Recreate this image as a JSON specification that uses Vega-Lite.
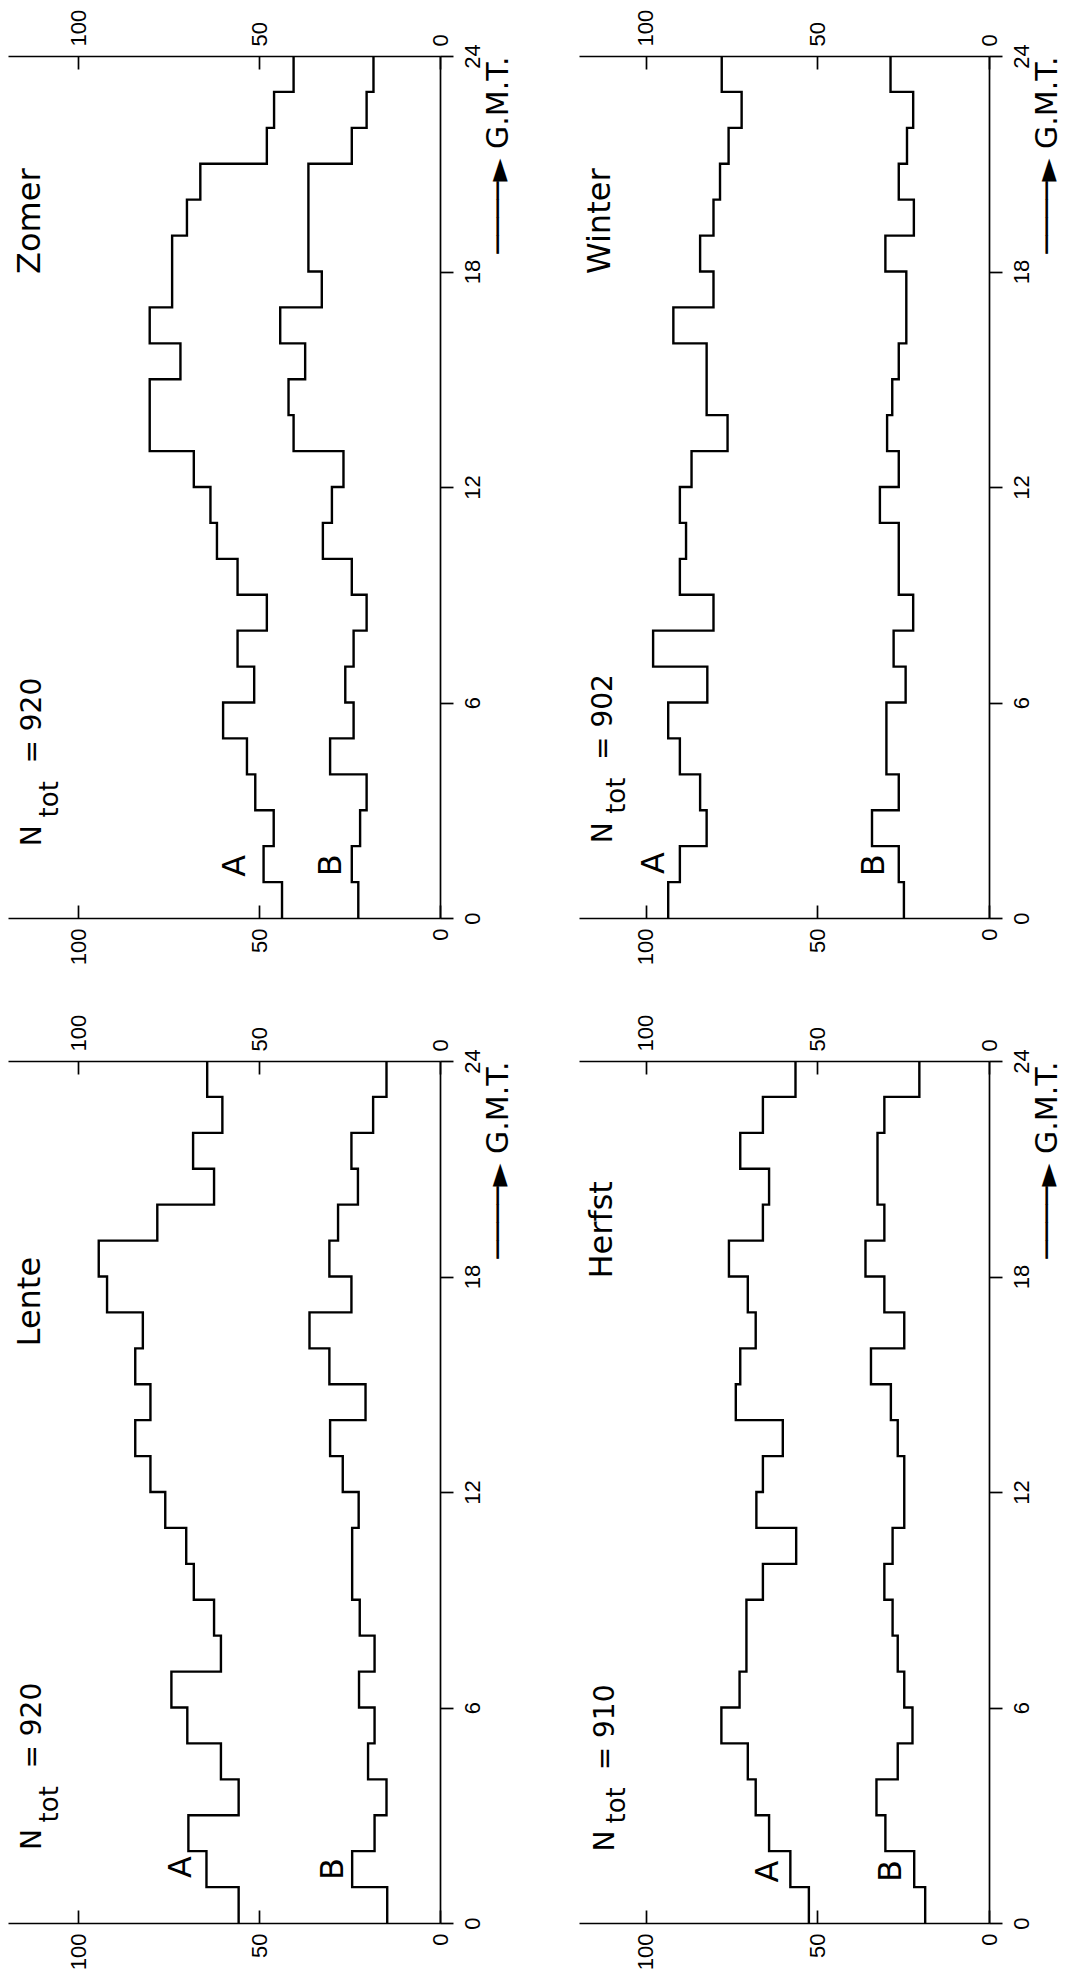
{
  "$schema": "https://vega.github.io/schema/vega-lite/v6.json",
  "padding": {"left": 8, "top": 9, "right": 0, "bottom": 0},
  "background": "white",
  "datasets": {
    "steps": [
      {"season":"Zomer","series":"A","hour":0,"value":43.7},{"season":"Zomer","series":"A","hour":1,"value":48.8},{"season":"Zomer","series":"A","hour":2,"value":46.0},{"season":"Zomer","series":"A","hour":3,"value":51.1},{"season":"Zomer","series":"A","hour":4,"value":53.4},{"season":"Zomer","series":"A","hour":5,"value":60.0},{"season":"Zomer","series":"A","hour":6,"value":51.4},{"season":"Zomer","series":"A","hour":7,"value":56.0},{"season":"Zomer","series":"A","hour":8,"value":47.9},{"season":"Zomer","series":"A","hour":9,"value":56.0},{"season":"Zomer","series":"A","hour":10,"value":61.7},{"season":"Zomer","series":"A","hour":11,"value":63.5},{"season":"Zomer","series":"A","hour":12,"value":68.1},{"season":"Zomer","series":"A","hour":13,"value":80.3},{"season":"Zomer","series":"A","hour":14,"value":80.3},{"season":"Zomer","series":"A","hour":15,"value":71.8},{"season":"Zomer","series":"A","hour":16,"value":80.3},{"season":"Zomer","series":"A","hour":17,"value":74.1},{"season":"Zomer","series":"A","hour":18,"value":74.1},{"season":"Zomer","series":"A","hour":19,"value":70.0},{"season":"Zomer","series":"A","hour":20,"value":66.3},{"season":"Zomer","series":"A","hour":21,"value":47.9},{"season":"Zomer","series":"A","hour":22,"value":45.9},{"season":"Zomer","series":"A","hour":23,"value":40.5},{"season":"Zomer","series":"A","hour":24,"value":40.5},
      {"season":"Zomer","series":"B","hour":0,"value":22.6},{"season":"Zomer","series":"B","hour":1,"value":24.4},{"season":"Zomer","series":"B","hour":2,"value":22.1},{"season":"Zomer","series":"B","hour":3,"value":20.3},{"season":"Zomer","series":"B","hour":4,"value":30.4},{"season":"Zomer","series":"B","hour":5,"value":23.9},{"season":"Zomer","series":"B","hour":6,"value":26.2},{"season":"Zomer","series":"B","hour":7,"value":23.9},{"season":"Zomer","series":"B","hour":8,"value":20.3},{"season":"Zomer","series":"B","hour":9,"value":24.4},{"season":"Zomer","series":"B","hour":10,"value":32.4},{"season":"Zomer","series":"B","hour":11,"value":29.9},{"season":"Zomer","series":"B","hour":12,"value":26.7},{"season":"Zomer","series":"B","hour":13,"value":40.5},{"season":"Zomer","series":"B","hour":14,"value":41.9},{"season":"Zomer","series":"B","hour":15,"value":37.3},{"season":"Zomer","series":"B","hour":16,"value":44.2},{"season":"Zomer","series":"B","hour":17,"value":32.7},{"season":"Zomer","series":"B","hour":18,"value":36.4},{"season":"Zomer","series":"B","hour":19,"value":36.4},{"season":"Zomer","series":"B","hour":20,"value":36.4},{"season":"Zomer","series":"B","hour":21,"value":24.4},{"season":"Zomer","series":"B","hour":22,"value":20.3},{"season":"Zomer","series":"B","hour":23,"value":18.4},{"season":"Zomer","series":"B","hour":24,"value":18.4},
      {"season":"Lente","series":"A","hour":0,"value":55.7},{"season":"Lente","series":"A","hour":1,"value":64.6},{"season":"Lente","series":"A","hour":2,"value":69.6},{"season":"Lente","series":"A","hour":3,"value":55.7},{"season":"Lente","series":"A","hour":4,"value":60.6},{"season":"Lente","series":"A","hour":5,"value":69.9},{"season":"Lente","series":"A","hour":6,"value":74.3},{"season":"Lente","series":"A","hour":7,"value":60.6},{"season":"Lente","series":"A","hour":8,"value":62.5},{"season":"Lente","series":"A","hour":9,"value":68.1},{"season":"Lente","series":"A","hour":10,"value":70.2},{"season":"Lente","series":"A","hour":11,"value":76.0},{"season":"Lente","series":"A","hour":12,"value":80.1},{"season":"Lente","series":"A","hour":13,"value":84.3},{"season":"Lente","series":"A","hour":14,"value":80.1},{"season":"Lente","series":"A","hour":15,"value":84.3},{"season":"Lente","series":"A","hour":16,"value":82.2},{"season":"Lente","series":"A","hour":17,"value":92.1},{"season":"Lente","series":"A","hour":18,"value":94.4},{"season":"Lente","series":"A","hour":19,"value":78.2},{"season":"Lente","series":"A","hour":20,"value":62.5},{"season":"Lente","series":"A","hour":21,"value":68.3},{"season":"Lente","series":"A","hour":22,"value":60.2},{"season":"Lente","series":"A","hour":23,"value":64.4},{"season":"Lente","series":"A","hour":24,"value":64.4},
      {"season":"Lente","series":"B","hour":0,"value":14.6},{"season":"Lente","series":"B","hour":1,"value":24.3},{"season":"Lente","series":"B","hour":2,"value":18.1},{"season":"Lente","series":"B","hour":3,"value":14.8},{"season":"Lente","series":"B","hour":4,"value":19.9},{"season":"Lente","series":"B","hour":5,"value":18.1},{"season":"Lente","series":"B","hour":6,"value":22.4},{"season":"Lente","series":"B","hour":7,"value":18.1},{"season":"Lente","series":"B","hour":8,"value":22.2},{"season":"Lente","series":"B","hour":9,"value":24.3},{"season":"Lente","series":"B","hour":10,"value":24.3},{"season":"Lente","series":"B","hour":11,"value":22.5},{"season":"Lente","series":"B","hour":12,"value":26.9},{"season":"Lente","series":"B","hour":13,"value":30.4},{"season":"Lente","series":"B","hour":14,"value":20.6},{"season":"Lente","series":"B","hour":15,"value":30.6},{"season":"Lente","series":"B","hour":16,"value":36.1},{"season":"Lente","series":"B","hour":17,"value":24.5},{"season":"Lente","series":"B","hour":18,"value":30.6},{"season":"Lente","series":"B","hour":19,"value":28.2},{"season":"Lente","series":"B","hour":20,"value":22.7},{"season":"Lente","series":"B","hour":21,"value":24.5},{"season":"Lente","series":"B","hour":22,"value":18.5},{"season":"Lente","series":"B","hour":23,"value":14.8},{"season":"Lente","series":"B","hour":24,"value":14.8},
      {"season":"Winter","series":"A","hour":0,"value":93.5},{"season":"Winter","series":"A","hour":1,"value":90.1},{"season":"Winter","series":"A","hour":2,"value":82.3},{"season":"Winter","series":"A","hour":3,"value":84.2},{"season":"Winter","series":"A","hour":4,"value":90.1},{"season":"Winter","series":"A","hour":5,"value":93.5},{"season":"Winter","series":"A","hour":6,"value":82.1},{"season":"Winter","series":"A","hour":7,"value":97.9},{"season":"Winter","series":"A","hour":8,"value":80.3},{"season":"Winter","series":"A","hour":9,"value":90.1},{"season":"Winter","series":"A","hour":10,"value":88.3},{"season":"Winter","series":"A","hour":11,"value":90.1},{"season":"Winter","series":"A","hour":12,"value":86.7},{"season":"Winter","series":"A","hour":13,"value":76.2},{"season":"Winter","series":"A","hour":14,"value":82.3},{"season":"Winter","series":"A","hour":15,"value":82.3},{"season":"Winter","series":"A","hour":16,"value":92.0},{"season":"Winter","series":"A","hour":17,"value":80.3},{"season":"Winter","series":"A","hour":18,"value":84.2},{"season":"Winter","series":"A","hour":19,"value":80.3},{"season":"Winter","series":"A","hour":20,"value":78.4},{"season":"Winter","series":"A","hour":21,"value":75.9},{"season":"Winter","series":"A","hour":22,"value":72.1},{"season":"Winter","series":"A","hour":23,"value":77.9},{"season":"Winter","series":"A","hour":24,"value":77.9},
      {"season":"Winter","series":"B","hour":0,"value":24.8},{"season":"Winter","series":"B","hour":1,"value":26.3},{"season":"Winter","series":"B","hour":2,"value":34.1},{"season":"Winter","series":"B","hour":3,"value":26.3},{"season":"Winter","series":"B","hour":4,"value":29.9},{"season":"Winter","series":"B","hour":5,"value":29.9},{"season":"Winter","series":"B","hour":6,"value":24.3},{"season":"Winter","series":"B","hour":7,"value":27.8},{"season":"Winter","series":"B","hour":8,"value":22.1},{"season":"Winter","series":"B","hour":9,"value":26.3},{"season":"Winter","series":"B","hour":10,"value":26.3},{"season":"Winter","series":"B","hour":11,"value":31.8},{"season":"Winter","series":"B","hour":12,"value":26.3},{"season":"Winter","series":"B","hour":13,"value":29.7},{"season":"Winter","series":"B","hour":14,"value":28.2},{"season":"Winter","series":"B","hour":15,"value":26.3},{"season":"Winter","series":"B","hour":16,"value":24.1},{"season":"Winter","series":"B","hour":17,"value":24.1},{"season":"Winter","series":"B","hour":18,"value":30.2},{"season":"Winter","series":"B","hour":19,"value":21.9},{"season":"Winter","series":"B","hour":20,"value":26.3},{"season":"Winter","series":"B","hour":21,"value":23.9},{"season":"Winter","series":"B","hour":22,"value":22.1},{"season":"Winter","series":"B","hour":23,"value":28.7},{"season":"Winter","series":"B","hour":24,"value":28.7},
      {"season":"Herfst","series":"A","hour":0,"value":52.5},{"season":"Herfst","series":"A","hour":1,"value":57.9},{"season":"Herfst","series":"A","hour":2,"value":64.1},{"season":"Herfst","series":"A","hour":3,"value":68.0},{"season":"Herfst","series":"A","hour":4,"value":70.3},{"season":"Herfst","series":"A","hour":5,"value":78.0},{"season":"Herfst","series":"A","hour":6,"value":72.7},{"season":"Herfst","series":"A","hour":7,"value":70.7},{"season":"Herfst","series":"A","hour":8,"value":70.7},{"season":"Herfst","series":"A","hour":9,"value":65.9},{"season":"Herfst","series":"A","hour":10,"value":56.2},{"season":"Herfst","series":"A","hour":11,"value":67.8},{"season":"Herfst","series":"A","hour":12,"value":65.9},{"season":"Herfst","series":"A","hour":13,"value":60.1},{"season":"Herfst","series":"A","hour":14,"value":73.8},{"season":"Herfst","series":"A","hour":15,"value":72.5},{"season":"Herfst","series":"A","hour":16,"value":68.0},{"season":"Herfst","series":"A","hour":17,"value":70.3},{"season":"Herfst","series":"A","hour":18,"value":75.8},{"season":"Herfst","series":"A","hour":19,"value":65.9},{"season":"Herfst","series":"A","hour":20,"value":64.1},{"season":"Herfst","series":"A","hour":21,"value":72.5},{"season":"Herfst","series":"A","hour":22,"value":65.9},{"season":"Herfst","series":"A","hour":23,"value":56.4},{"season":"Herfst","series":"A","hour":24,"value":56.4},
      {"season":"Herfst","series":"B","hour":0,"value":18.6},{"season":"Herfst","series":"B","hour":1,"value":21.8},{"season":"Herfst","series":"B","hour":2,"value":30.2},{"season":"Herfst","series":"B","hour":3,"value":32.8},{"season":"Herfst","series":"B","hour":4,"value":26.6},{"season":"Herfst","series":"B","hour":5,"value":22.3},{"season":"Herfst","series":"B","hour":6,"value":24.7},{"season":"Herfst","series":"B","hour":7,"value":26.6},{"season":"Herfst","series":"B","hour":8,"value":28.1},{"season":"Herfst","series":"B","hour":9,"value":30.5},{"season":"Herfst","series":"B","hour":10,"value":28.1},{"season":"Herfst","series":"B","hour":11,"value":24.7},{"season":"Herfst","series":"B","hour":12,"value":24.7},{"season":"Herfst","series":"B","hour":13,"value":26.6},{"season":"Herfst","series":"B","hour":14,"value":28.6},{"season":"Herfst","series":"B","hour":15,"value":34.4},{"season":"Herfst","series":"B","hour":16,"value":24.7},{"season":"Herfst","series":"B","hour":17,"value":30.5},{"season":"Herfst","series":"B","hour":18,"value":36.0},{"season":"Herfst","series":"B","hour":19,"value":30.5},{"season":"Herfst","series":"B","hour":20,"value":32.5},{"season":"Herfst","series":"B","hour":21,"value":32.5},{"season":"Herfst","series":"B","hour":22,"value":30.5},{"season":"Herfst","series":"B","hour":23,"value":20.3},{"season":"Herfst","series":"B","hour":24,"value":20.3}
    ]
  },
  "hconcat": [
    {
      "spacing": 49,
      "vconcat": [
        {
          "width": 432, "height": 862,
          "layer": [
            {"data": {"name": "steps"}, "transform": [{"filter": "datum.season === 'Zomer'"}],
             "mark": {"type": "line", "interpolate": "step-before", "color": "black", "strokeWidth": 2.4},
             "encoding": {
               "x": {"field": "value", "type": "quantitative", "scale": {"domain": [0, 119.5], "reverse": true}, "axis": {"orient": "bottom", "values": [0, 50, 100], "labelAlign": "right", "title": null}},
               "y": {"field": "hour", "type": "quantitative", "scale": {"domain": [0, 24]}, "axis": {"orient": "right", "values": [0, 6, 12, 18, 24], "title": "────► G.M.T.  "}},
               "detail": {"field": "series"}, "order": {"field": "hour"}}},
            {"data": {"values": [{}]}, "mark": {"type": "text", "text": "Zomer", "angle": 270, "fontSize": 32, "align": "center", "baseline": "middle"},
             "encoding": {"x": {"datum": 113.3, "type": "quantitative", "scale": {"domain": [0, 119.5], "reverse": true}, "axis": {"orient": "top", "values": [0, 50, 100], "labelAlign": "left", "title": null}}, "y": {"datum": 19.4, "type": "quantitative", "scale": {"domain": [0, 24]}, "axis": null}}},
            {"data": {"values": [{}]}, "mark": {"type": "text", "text": "A", "angle": 270, "fontSize": 32, "align": "center", "baseline": "middle"},
             "encoding": {"x": {"datum": 56.6, "type": "quantitative", "scale": {"domain": [0, 119.5], "reverse": true}, "axis": null}, "y": {"datum": 1.45, "type": "quantitative", "scale": {"domain": [0, 24]}, "axis": null}}},
            {"data": {"values": [{}]}, "mark": {"type": "text", "text": "B", "angle": 270, "fontSize": 32, "align": "center", "baseline": "middle"},
             "encoding": {"x": {"datum": 30.1, "type": "quantitative", "scale": {"domain": [0, 119.5], "reverse": true}, "axis": null}, "y": {"datum": 1.47, "type": "quantitative", "scale": {"domain": [0, 24]}, "axis": null}}},
            {"data": {"values": [{}]}, "mark": {"type": "text", "text": "N", "angle": 270, "fontSize": 28, "align": "left", "baseline": "alphabetic"},
             "encoding": {"x": {"datum": 110.5, "type": "quantitative", "scale": {"domain": [0, 119.5], "reverse": true}, "axis": null}, "y": {"datum": 2.0, "type": "quantitative", "scale": {"domain": [0, 24]}, "axis": null}}},
            {"data": {"values": [{}]}, "mark": {"type": "text", "text": "tot", "angle": 270, "fontSize": 26, "align": "left", "baseline": "alphabetic"},
             "encoding": {"x": {"datum": 105.8, "type": "quantitative", "scale": {"domain": [0, 119.5], "reverse": true}, "axis": null}, "y": {"datum": 2.8, "type": "quantitative", "scale": {"domain": [0, 24]}, "axis": null}}},
            {"data": {"values": [{}]}, "mark": {"type": "text", "text": "= 920", "angle": 270, "fontSize": 28, "align": "left", "baseline": "alphabetic"},
             "encoding": {"x": {"datum": 110.5, "type": "quantitative", "scale": {"domain": [0, 119.5], "reverse": true}, "axis": null}, "y": {"datum": 4.3, "type": "quantitative", "scale": {"domain": [0, 24]}, "axis": null}}}
          ],
          "resolve": {"axis": {"x": "independent", "y": "independent"}}
        },
        {
          "width": 432, "height": 862,
          "layer": [
            {"data": {"name": "steps"}, "transform": [{"filter": "datum.season === 'Lente'"}],
             "mark": {"type": "line", "interpolate": "step-before", "color": "black", "strokeWidth": 2.4},
             "encoding": {
               "x": {"field": "value", "type": "quantitative", "scale": {"domain": [0, 119.5], "reverse": true}, "axis": {"orient": "bottom", "values": [0, 50, 100], "labelAlign": "right", "title": null}},
               "y": {"field": "hour", "type": "quantitative", "scale": {"domain": [0, 24]}, "axis": {"orient": "right", "values": [0, 6, 12, 18, 24], "title": "────► G.M.T.  "}},
               "detail": {"field": "series"}, "order": {"field": "hour"}}},
            {"data": {"values": [{}]}, "mark": {"type": "text", "text": "Lente", "angle": 270, "fontSize": 32, "align": "center", "baseline": "middle"},
             "encoding": {"x": {"datum": 113.5, "type": "quantitative", "scale": {"domain": [0, 119.5], "reverse": true}, "axis": {"orient": "top", "values": [0, 50, 100], "labelAlign": "left", "title": null}}, "y": {"datum": 17.3, "type": "quantitative", "scale": {"domain": [0, 24]}, "axis": null}}},
            {"data": {"values": [{}]}, "mark": {"type": "text", "text": "A", "angle": 270, "fontSize": 32, "align": "center", "baseline": "middle"},
             "encoding": {"x": {"datum": 71.7, "type": "quantitative", "scale": {"domain": [0, 119.5], "reverse": true}, "axis": null}, "y": {"datum": 1.56, "type": "quantitative", "scale": {"domain": [0, 24]}, "axis": null}}},
            {"data": {"values": [{}]}, "mark": {"type": "text", "text": "B", "angle": 270, "fontSize": 32, "align": "center", "baseline": "middle"},
             "encoding": {"x": {"datum": 29.7, "type": "quantitative", "scale": {"domain": [0, 119.5], "reverse": true}, "axis": null}, "y": {"datum": 1.5, "type": "quantitative", "scale": {"domain": [0, 24]}, "axis": null}}},
            {"data": {"values": [{}]}, "mark": {"type": "text", "text": "N", "angle": 270, "fontSize": 28, "align": "left", "baseline": "alphabetic"},
             "encoding": {"x": {"datum": 110.5, "type": "quantitative", "scale": {"domain": [0, 119.5], "reverse": true}, "axis": null}, "y": {"datum": 2.03, "type": "quantitative", "scale": {"domain": [0, 24]}, "axis": null}}},
            {"data": {"values": [{}]}, "mark": {"type": "text", "text": "tot", "angle": 270, "fontSize": 26, "align": "left", "baseline": "alphabetic"},
             "encoding": {"x": {"datum": 105.8, "type": "quantitative", "scale": {"domain": [0, 119.5], "reverse": true}, "axis": null}, "y": {"datum": 2.8, "type": "quantitative", "scale": {"domain": [0, 24]}, "axis": null}}},
            {"data": {"values": [{}]}, "mark": {"type": "text", "text": "= 920", "angle": 270, "fontSize": 28, "align": "left", "baseline": "alphabetic"},
             "encoding": {"x": {"datum": 110.5, "type": "quantitative", "scale": {"domain": [0, 119.5], "reverse": true}, "axis": null}, "y": {"datum": 4.3, "type": "quantitative", "scale": {"domain": [0, 24]}, "axis": null}}}
          ],
          "resolve": {"axis": {"x": "independent", "y": "independent"}}
        }
      ]
    },
    {
      "spacing": 49,
      "vconcat": [
        {
          "width": 410, "height": 862,
          "layer": [
            {"data": {"name": "steps"}, "transform": [{"filter": "datum.season === 'Winter'"}],
             "mark": {"type": "line", "interpolate": "step-before", "color": "black", "strokeWidth": 2.4},
             "encoding": {
               "x": {"field": "value", "type": "quantitative", "scale": {"domain": [0, 119.5], "reverse": true}, "axis": {"orient": "bottom", "values": [0, 50, 100], "labelAlign": "right", "title": null}},
               "y": {"field": "hour", "type": "quantitative", "scale": {"domain": [0, 24]}, "axis": {"orient": "right", "values": [0, 6, 12, 18, 24], "title": "────► G.M.T.  "}},
               "detail": {"field": "series"}, "order": {"field": "hour"}}},
            {"data": {"values": [{}]}, "mark": {"type": "text", "text": "Winter", "angle": 270, "fontSize": 32, "align": "center", "baseline": "middle"},
             "encoding": {"x": {"datum": 113.3, "type": "quantitative", "scale": {"domain": [0, 119.5], "reverse": true}, "axis": {"orient": "top", "values": [0, 50, 100], "labelAlign": "left", "title": null}}, "y": {"datum": 19.4, "type": "quantitative", "scale": {"domain": [0, 24]}, "axis": null}}},
            {"data": {"values": [{}]}, "mark": {"type": "text", "text": "A", "angle": 270, "fontSize": 32, "align": "center", "baseline": "middle"},
             "encoding": {"x": {"datum": 97.7, "type": "quantitative", "scale": {"domain": [0, 119.5], "reverse": true}, "axis": null}, "y": {"datum": 1.53, "type": "quantitative", "scale": {"domain": [0, 24]}, "axis": null}}},
            {"data": {"values": [{}]}, "mark": {"type": "text", "text": "B", "angle": 270, "fontSize": 32, "align": "center", "baseline": "middle"},
             "encoding": {"x": {"datum": 33.5, "type": "quantitative", "scale": {"domain": [0, 119.5], "reverse": true}, "axis": null}, "y": {"datum": 1.47, "type": "quantitative", "scale": {"domain": [0, 24]}, "axis": null}}},
            {"data": {"values": [{}]}, "mark": {"type": "text", "text": "N", "angle": 270, "fontSize": 28, "align": "left", "baseline": "alphabetic"},
             "encoding": {"x": {"datum": 110.0, "type": "quantitative", "scale": {"domain": [0, 119.5], "reverse": true}, "axis": null}, "y": {"datum": 2.08, "type": "quantitative", "scale": {"domain": [0, 24]}, "axis": null}}},
            {"data": {"values": [{}]}, "mark": {"type": "text", "text": "tot", "angle": 270, "fontSize": 26, "align": "left", "baseline": "alphabetic"},
             "encoding": {"x": {"datum": 106.0, "type": "quantitative", "scale": {"domain": [0, 119.5], "reverse": true}, "axis": null}, "y": {"datum": 2.9, "type": "quantitative", "scale": {"domain": [0, 24]}, "axis": null}}},
            {"data": {"values": [{}]}, "mark": {"type": "text", "text": "= 902", "angle": 270, "fontSize": 28, "align": "left", "baseline": "alphabetic"},
             "encoding": {"x": {"datum": 110.0, "type": "quantitative", "scale": {"domain": [0, 119.5], "reverse": true}, "axis": null}, "y": {"datum": 4.4, "type": "quantitative", "scale": {"domain": [0, 24]}, "axis": null}}}
          ],
          "resolve": {"axis": {"x": "independent", "y": "independent"}}
        },
        {
          "width": 410, "height": 862,
          "layer": [
            {"data": {"name": "steps"}, "transform": [{"filter": "datum.season === 'Herfst'"}],
             "mark": {"type": "line", "interpolate": "step-before", "color": "black", "strokeWidth": 2.4},
             "encoding": {
               "x": {"field": "value", "type": "quantitative", "scale": {"domain": [0, 119.5], "reverse": true}, "axis": {"orient": "bottom", "values": [0, 50, 100], "labelAlign": "right", "title": null}},
               "y": {"field": "hour", "type": "quantitative", "scale": {"domain": [0, 24]}, "axis": {"orient": "right", "values": [0, 6, 12, 18, 24], "title": "────► G.M.T.  "}},
               "detail": {"field": "series"}, "order": {"field": "hour"}}},
            {"data": {"values": [{}]}, "mark": {"type": "text", "text": "Herfst", "angle": 270, "fontSize": 32, "align": "center", "baseline": "middle"},
             "encoding": {"x": {"datum": 112.8, "type": "quantitative", "scale": {"domain": [0, 119.5], "reverse": true}, "axis": {"orient": "top", "values": [0, 50, 100], "labelAlign": "left", "title": null}}, "y": {"datum": 19.3, "type": "quantitative", "scale": {"domain": [0, 24]}, "axis": null}}},
            {"data": {"values": [{}]}, "mark": {"type": "text", "text": "A", "angle": 270, "fontSize": 32, "align": "center", "baseline": "middle"},
             "encoding": {"x": {"datum": 64.5, "type": "quantitative", "scale": {"domain": [0, 119.5], "reverse": true}, "axis": null}, "y": {"datum": 1.43, "type": "quantitative", "scale": {"domain": [0, 24]}, "axis": null}}},
            {"data": {"values": [{}]}, "mark": {"type": "text", "text": "B", "angle": 270, "fontSize": 32, "align": "center", "baseline": "middle"},
             "encoding": {"x": {"datum": 28.5, "type": "quantitative", "scale": {"domain": [0, 119.5], "reverse": true}, "axis": null}, "y": {"datum": 1.45, "type": "quantitative", "scale": {"domain": [0, 24]}, "axis": null}}},
            {"data": {"values": [{}]}, "mark": {"type": "text", "text": "N", "angle": 270, "fontSize": 28, "align": "left", "baseline": "alphabetic"},
             "encoding": {"x": {"datum": 109.3, "type": "quantitative", "scale": {"domain": [0, 119.5], "reverse": true}, "axis": null}, "y": {"datum": 1.99, "type": "quantitative", "scale": {"domain": [0, 24]}, "axis": null}}},
            {"data": {"values": [{}]}, "mark": {"type": "text", "text": "tot", "angle": 270, "fontSize": 26, "align": "left", "baseline": "alphabetic"},
             "encoding": {"x": {"datum": 106.1, "type": "quantitative", "scale": {"domain": [0, 119.5], "reverse": true}, "axis": null}, "y": {"datum": 2.77, "type": "quantitative", "scale": {"domain": [0, 24]}, "axis": null}}},
            {"data": {"values": [{}]}, "mark": {"type": "text", "text": "= 910", "angle": 270, "fontSize": 28, "align": "left", "baseline": "alphabetic"},
             "encoding": {"x": {"datum": 109.3, "type": "quantitative", "scale": {"domain": [0, 119.5], "reverse": true}, "axis": null}, "y": {"datum": 4.25, "type": "quantitative", "scale": {"domain": [0, 24]}, "axis": null}}}
          ],
          "resolve": {"axis": {"x": "independent", "y": "independent"}}
        }
      ]
    }
  ],
  "spacing": 66,
  "config": {
    "view": {"stroke": null},
    "font": "DejaVu Sans",
    "text": {"font": "DejaVu Sans", "color": "black"},
    "axis": {
      "domainColor": "black", "tickColor": "black", "labelColor": "black", "titleColor": "black",
      "grid": false, "domainWidth": 1.7, "tickWidth": 1.7,
      "labelFont": "Liberation Sans", "labelFontSize": 22,
      "titleFont": "DejaVu Sans", "titleFontWeight": "normal",
      "labelFlush": false, "labelOverlap": false, "labelAngle": 270
    },
    "axisX": {"tickSize": -13, "labelBaseline": "middle", "labelPadding": 23},
    "axisY": {"tickSize": 13, "labelAlign": "center", "labelBaseline": "top", "labelPadding": 9,
      "titleAngle": 270, "titleAnchor": "end", "titleAlign": "right", "titleBaseline": "top", "titlePadding": 0, "titleFontSize": 30}
  }
}
